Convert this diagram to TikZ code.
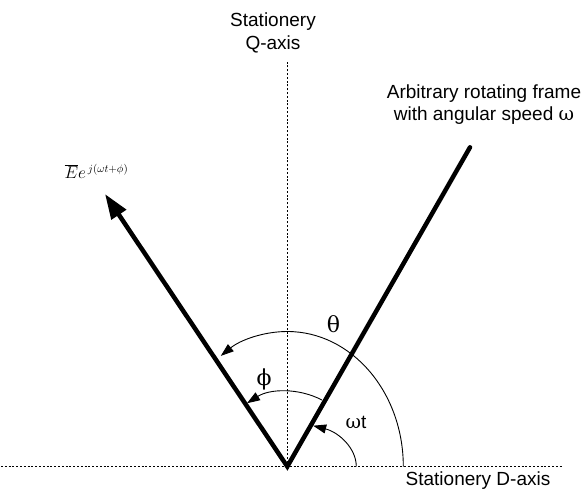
\documentclass[tikz,border=0pt]{standalone}
\usepackage{fontspec}
\setmainfont{Liberation Sans}
\newfontfamily\grk{DejaVu Serif}
\usetikzlibrary{arrows.meta,calc}
\begin{document}
\begin{tikzpicture}[x=1pt,y=1pt,
  axisline/.style={line width=1.2pt, dash pattern=on 2pt off 1.8pt},
  thickline/.style={line width=4.5pt, line join=miter, line cap=round},
  anglearc/.style={line width=0.9pt, -{Triangle[length=13pt,width=9pt]}},
  lbl/.style={inner sep=0pt, font=\fontsize{19}{22}\selectfont},
  greek/.style={inner sep=0pt, font=\fontsize{22}{24}\grk}]
\useasboundingbox (0,0) rectangle (583,501);
\coordinate (O) at (287.3,34.5);
\coordinate (Dl) at (1,34.5);
\coordinate (Dr) at (562,34.5);
\coordinate (Qt) at (287.3,439);
\coordinate (F) at (470,353.7);
\coordinate (Et) at (105,307);
\draw[axisline] (Dl) -- (Dr);
\draw[axisline] (O) -- (Qt);
\draw[thickline, {Triangle[length=25pt,width=17pt]}-] (Et) -- (O) -- (F);
\draw[anglearc] ($(O)+(116,0)$) arc[start angle=0,end angle=125,x radius=116,y radius=135];
\draw[anglearc] ($(O)+(62.5:75)$) arc[start angle=62.5,end angle=122.5,radius=75];
\draw[anglearc] ($(O)+(69,0)$) arc[start angle=0,end angle=68,x radius=69,y radius=44];
\node[lbl, align=center, anchor=north, font=\fontsize{19}{23}\selectfont] (q) at (273,488) {Stationery\\Q-axis};
\node[lbl, align=center, anchor=north] (arb) at (484,416) {Arbitrary rotating frame\\with angular speed {\grk ω}};
\node[lbl, anchor=north] (d) at (478,29.3) {Stationery D-axis};
\node[greek] (th) at (333.5,176.5) {θ};
\node[greek] (ph) at (264,122) {ϕ};
\node[lbl] (wt) at (356,78.5) {{\grk ω}t};
\node[inner sep=0pt, font=\fontsize{16}{19}\selectfont] (el) at (96.5,329.5) {$\overline{E}e^{\,j(\omega t+\phi)}$};
\end{tikzpicture}
\end{document}
